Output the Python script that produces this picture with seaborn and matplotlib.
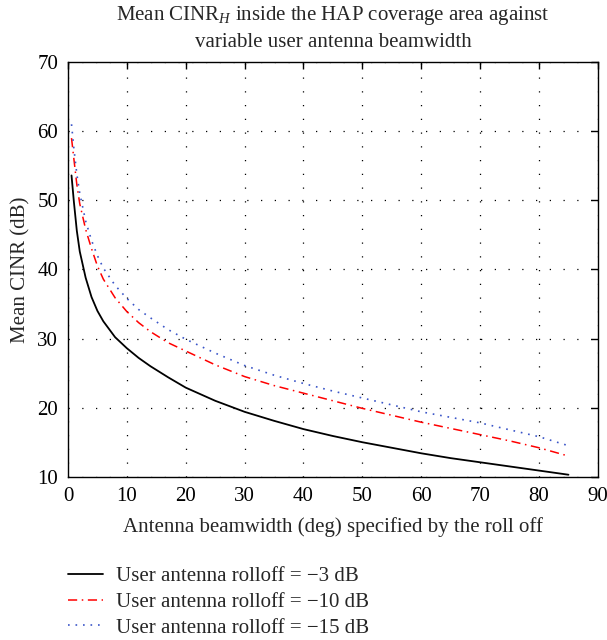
import numpy as np
import pandas as pd
import seaborn as sns
import matplotlib
matplotlib.use("Agg")
import matplotlib.pyplot as plt

beamwidth = [0.6, 1, 1.5, 2, 3, 4, 5, 6, 8, 10, 12, 14, 17, 20, 25, 30, 35, 40,
             45, 50, 55, 60, 65, 70, 75, 80, 85]
cinr_3db = [53.6, 49.8, 45.6, 42.6, 38.8, 36.0, 34.0, 32.5, 30.2, 28.6, 27.2, 26.0,
            24.4, 22.9, 21.0, 19.4, 18.1, 16.9, 15.9, 15.0, 14.2, 13.4, 12.7, 12.1,
            11.5, 10.9, 10.3]
cinr_10db = [59.0, 56.0, 52.3, 49.5, 45.8, 43.0, 40.5, 38.6, 35.9, 33.9, 32.3, 31.0,
             29.4, 28.2, 26.2, 24.5, 23.2, 22.1, 21.0, 19.9, 18.9, 17.9, 17.0, 16.1,
             15.2, 14.2, 13.0]
cinr_15db = [61.0, 57.5, 53.8, 51.0, 47.0, 44.2, 42.0, 40.2, 37.7, 35.8, 34.2, 33.0,
             31.3, 29.9, 27.9, 26.1, 24.7, 23.5, 22.4, 21.4, 20.4, 19.4, 18.6, 17.8,
             16.8, 15.8, 14.5]
labels = ["User antenna rolloff = \u22123 dB",
          "User antenna rolloff = \u221210 dB",
          "User antenna rolloff = \u221215 dB"]
xticks = [0, 10, 20, 30, 40, 50, 60, 70, 80, 90]
yticks = [10, 20, 30, 40, 50, 60, 70]

sns.set_theme(style="white")
plt.rcParams['font.family'] = ['Liberation Serif', 'DejaVu Serif']
plt.rcParams['mathtext.fontset'] = 'custom'
plt.rcParams['mathtext.rm'] = 'Liberation Serif'
plt.rcParams['mathtext.it'] = 'Liberation Serif:italic'

fig = plt.figure(figsize=(6.07, 6.4), dpi=100)
ax = fig.add_axes([0.112, 0.255, 0.873, 0.648])

styles = [dict(color="black", linestyle="-", linewidth=1.3),
          dict(color="red", linestyle=(0, (6, 3, 1, 3)), linewidth=1.1),
          dict(color="#3a55c8", linestyle=(0, (1, 3.5)), linewidth=1.2)]
for ys, lab, st in zip([cinr_3db, cinr_10db, cinr_15db], labels, styles):
    sns.lineplot(x=beamwidth, y=ys, ax=ax, label=lab, **st)

ax.set_xlim(0, 90)
ax.set_ylim(10, 70)
ax.set_xticks(xticks)
ax.set_yticks(yticks)
ax.grid(True, color="black", linestyle=(0, (1, 10)), linewidth=0.9)
ax.tick_params(direction="in", length=5, width=1, top=True, right=True,
               labelsize=15, pad=7, colors="black")
for s in ax.spines.values():
    s.set_color("black")
    s.set_linewidth(1.0)

ax.set_xlabel("Antenna beamwidth (deg) specified by the roll off", fontsize=15, labelpad=8)
ax.set_ylabel("Mean CINR (dB)", fontsize=15, labelpad=5)
ax.set_title("Mean CINR$_H$ inside the HAP coverage area against\nvariable user antenna beamwidth",
             fontsize=15, pad=11, linespacing=1.4)

handles, labs = ax.get_legend_handles_labels()
ax.get_legend().remove()
fig.legend(handles, labs, loc="upper left", bbox_to_anchor=(0.112, 0.115),
           frameon=False, fontsize=15, handlelength=1.7, handletextpad=0.6,
           labelspacing=0.3, borderaxespad=0, borderpad=0)

fig.savefig("out.png", dpi=100, facecolor="white")
